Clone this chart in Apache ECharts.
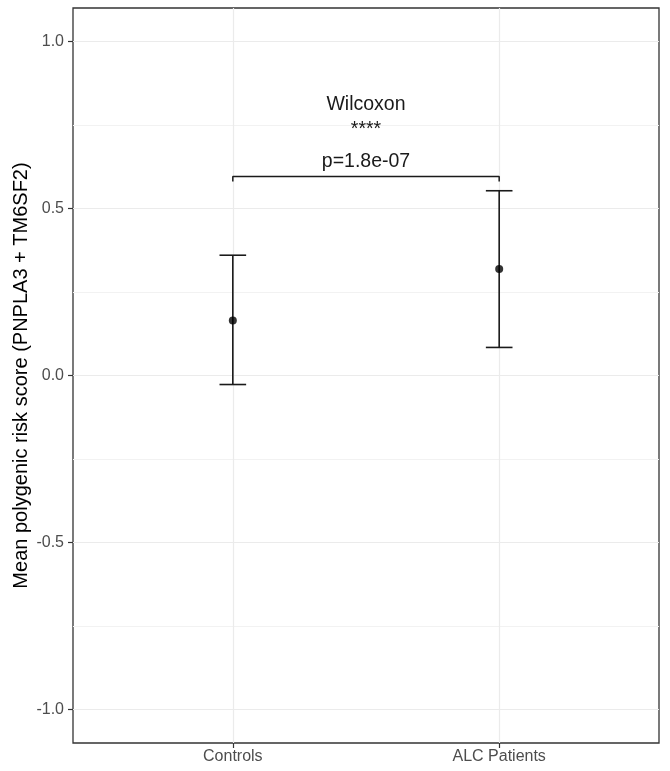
<!DOCTYPE html>
<html>
<head>
<meta charset="utf-8">
<script src="https://cdn.jsdelivr.net/npm/echarts@6/dist/echarts.min.js"></script>
<style>
    html, body { margin: 0; padding: 0; background: #fff; }
    #chart { width: 670px; height: 771px; }
</style>
</head>
<body>
<div id="chart"></div>
<script>
// groups sit at x = 1, 2 on a value axis (ggplot style discrete spacing)
var groups = ['Controls', 'ALC Patients'];
var groupPos = [1, 2];
var means = [0.165, 0.319];
var lower = [-0.027, 0.084];
var upper = [0.360, 0.553];

var yTicks = [-1.0, -0.5, 0.0, 0.5, 1.0];
var yMinor = [-0.75, -0.25, 0.25, 0.75];

// significance bracket + labels
var bracket = [[1, 0.581], [1, 0.596], [2, 0.596], [2, 0.581]];
var annotations = [
    [1.5, 0.812, 'Wilcoxon'],
    [1.5, 0.737, '****'],
    [1.5, 0.640, 'p=1.8e-07']
];

var FONT = '"Liberation Sans", Arial, sans-serif';
var chart = echarts.init(document.getElementById('chart'));

chart.setOption({
    backgroundColor: '#ffffff',
    animation: false,
    grid: {
        left: 73,
        right: 11,
        top: 8,
        bottom: 28,
        outerBoundsMode: 'none',
        containLabel: false,
        show: true,
        borderColor: '#333333',
        borderWidth: 1.3,
        backgroundColor: 'transparent'
    },
    xAxis: {
        type: 'value',
        min: 0.4,
        max: 2.6,
        axisLine: { show: false, onZero: false },
        axisTick: {
            show: true,
            customValues: groupPos,
            length: 5,
            lineStyle: { color: '#333333', width: 1.2 }
        },
        axisLabel: {
            customValues: groupPos,
            formatter: function (v) {
                return groups[groupPos.indexOf(Math.round(v))] || '';
            },
            color: '#4d4d4d',
            fontSize: 16,
            fontFamily: FONT,
            margin: 6
        },
        splitLine: {
            show: true,
            lineStyle: { color: '#ebebeb', width: 1.2 }
        }
    },
    yAxis: [
        {
            type: 'value',
            min: -1.1,
            max: 1.1,
            name: 'Mean polygenic risk score (PNPLA3 + TM6SF2)',
            nameLocation: 'middle',
            nameGap: 42,
            nameMoveOverlap: false,
            nameTextStyle: { color: '#000000', fontSize: 20, fontFamily: FONT },
            axisLine: { show: false, onZero: false },
            axisTick: {
                show: true,
                customValues: yTicks,
                length: 5,
                lineStyle: { color: '#333333', width: 1.2 }
            },
            axisLabel: {
                customValues: yTicks,
                formatter: function (v) { return v.toFixed(1); },
                color: '#4d4d4d',
                fontSize: 16,
                fontFamily: FONT,
                margin: 9
            },
            splitLine: {
                show: true,
                lineStyle: { color: '#ebebeb', width: 1.2 }
            }
        },
        {
            // minor horizontal grid lines only
            type: 'value',
            position: 'left',
            min: -1.1,
            max: 1.1,
            axisLine: { show: false, onZero: false },
            axisTick: { show: false, customValues: yMinor },
            axisLabel: { show: false, customValues: yMinor },
            splitLine: {
                show: true,
                lineStyle: { color: '#f2f2f2', width: 1 }
            }
        }
    ],
    series: [
        {
            // error bars
            type: 'custom',
            data: groupPos.map(function (x, i) { return [x, lower[i], upper[i]]; }),
            renderItem: function (params, api) {
                var x = api.value(0);
                var lo = api.coord([x, api.value(1)]);
                var hi = api.coord([x, api.value(2)]);
                var half = api.size([0.05, 0])[0];
                var style = { stroke: '#1a1a1a', lineWidth: 1.6 };
                return {
                    type: 'group',
                    children: [
                        { type: 'line', shape: { x1: lo[0], y1: lo[1], x2: hi[0], y2: hi[1] }, style: style },
                        { type: 'line', shape: { x1: lo[0] - half, y1: lo[1], x2: lo[0] + half, y2: lo[1] }, style: style },
                        { type: 'line', shape: { x1: hi[0] - half, y1: hi[1], x2: hi[0] + half, y2: hi[1] }, style: style }
                    ]
                };
            },
            z: 3
        },
        {
            type: 'scatter',
            data: groupPos.map(function (x, i) { return [x, means[i]]; }),
            symbol: 'circle',
            symbolSize: 8,
            itemStyle: { color: '#000000' },
            z: 4
        },
        {
            type: 'line',
            data: bracket,
            showSymbol: false,
            lineStyle: { color: '#1a1a1a', width: 1.5 },
            silent: true,
            z: 3
        },
        {
            type: 'custom',
            data: annotations,
            renderItem: function (params, api) {
                var p = api.coord([api.value(0), api.value(1)]);
                return {
                    type: 'text',
                    x: p[0],
                    y: p[1],
                    style: {
                        text: annotations[params.dataIndex][2],
                        fill: '#1a1a1a',
                        font: '19.5px ' + FONT,
                        textAlign: 'center',
                        textVerticalAlign: 'middle'
                    }
                };
            },
            z: 5
        }
    ]
});
</script>
</body>
</html>
